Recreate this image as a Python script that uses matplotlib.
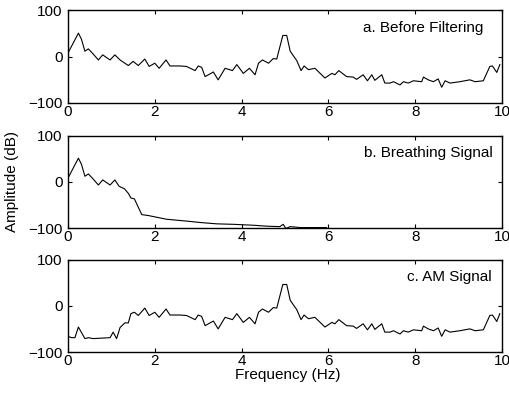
import numpy as np
import matplotlib
matplotlib.use('Agg')
import matplotlib.pyplot as plt

plt.rcParams['font.family'] = ['Liberation Sans', 'DejaVu Sans']

# spectrum before filtering (Hz, dB)
freq_a = [0.0, 0.24, 0.31, 0.39, 0.47, 0.58, 0.70, 0.80, 0.97, 1.08, 1.20, 1.39, 1.50,
          1.62, 1.77, 1.87, 2.00, 2.10, 2.26, 2.35, 2.58, 2.73, 2.93, 3.00, 3.08, 3.16,
          3.35, 3.46, 3.62, 3.79, 3.89, 4.04, 4.18, 4.31, 4.39, 4.48, 4.62, 4.73, 4.81,
          4.95, 5.04, 5.12, 5.23, 5.27, 5.37, 5.44, 5.54, 5.69, 5.92, 6.08, 6.15, 6.24,
          6.42, 6.57, 6.65, 6.80, 6.90, 7.00, 7.07, 7.23, 7.30, 7.42, 7.50, 7.65, 7.73,
          7.84, 7.96, 8.15, 8.19, 8.30, 8.42, 8.53, 8.61, 8.69, 8.80, 9.03, 9.26, 9.38,
          9.57, 9.72, 9.78, 9.88, 9.95]
db_a = [8, 51, 38, 12, 17, 6, -7, 4, -7, 4, -7, -19, -10,
        -19, -5, -21, -14, -25, -7, -20, -20, -21, -30, -20, -23, -43,
        -33, -50, -25, -30, -17, -36, -25, -39, -14, -7, -14, -4, -5,
        46, 46, 12, -3, -8, -30, -20, -28, -25, -46, -36, -39, -30,
        -43, -44, -49, -39, -52, -39, -51, -39, -57, -57, -54, -61, -54,
        -57, -52, -54, -44, -50, -54, -48, -66, -52, -57, -54, -50, -54,
        -52, -21, -20, -34, -17]

# breathing signal: low band of the original, then roll-off
freq_b_tail = [1.18, 1.30, 1.39, 1.45, 1.53, 1.70, 1.85, 2.27, 2.73, 3.04, 3.43, 3.81,
               4.27, 4.58, 4.88, 4.96, 5.02, 5.12, 5.35, 5.96]
db_b_tail = [-10, -15, -25, -35, -37, -71, -73, -81, -85, -88, -91, -92,
             -94, -96, -97, -92, -101, -97, -99, -99]

# AM signal: suppressed low band, then same as original
freq_c_head = [0.0, 0.08, 0.16, 0.24, 0.39, 0.47, 0.58, 0.97, 1.04, 1.12, 1.20, 1.31,
               1.39, 1.45, 1.53, 1.62]
db_c_head = [-66, -69, -69, -46, -71, -69, -71, -69, -57, -71, -47, -37,
             -37, -17, -14, -21]

fa = np.array(freq_a)
da = np.array(db_a)
fb = np.concatenate([fa[fa < 1.1], freq_b_tail])
dbb = np.concatenate([da[fa < 1.1], db_b_tail])
fc = np.concatenate([freq_c_head, fa[fa > 1.7]])
dc = np.concatenate([db_c_head, da[fa > 1.7]])

series = [(fa, da, 'a. Before Filtering', 0.956),
          (fb, dbb, 'b. Breathing Signal', 0.979),
          (fc, dc, 'c. AM Signal', 0.977)]
bottoms = [0.740, 0.4242, 0.1111]

fig = plt.figure(figsize=(5.1, 3.96), dpi=100)
for (x, y, label, tx), b in zip(series, bottoms):
    ax = fig.add_axes([0.1333, b, 0.851, 0.2335])
    ax.plot(x, y, color='black', lw=0.8)
    ax.set_xlim(0, 10)
    ax.set_ylim(-100, 100)
    ax.set_xticks([0, 2, 4, 6, 8, 10])
    ax.set_yticks([-100, 0, 100])
    ax.tick_params(direction='in', top=True, right=True, length=3, labelsize=11)
    ax.tick_params(axis='x', pad=1.5)
    ax.tick_params(axis='y', pad=4)
    for s in ax.spines.values():
        s.set_linewidth(1.0)
    ax.text(tx, 0.815, label, transform=ax.transAxes, ha='right', va='center', fontsize=11)

fig.text(0.024, 0.542, 'Amplitude (dB)', rotation=90, ha='center', va='center', fontsize=11)
fig.text(0.564, 0.053, 'Frequency (Hz)', ha='center', va='center', fontsize=11)
fig.savefig('out.png', dpi=100)
